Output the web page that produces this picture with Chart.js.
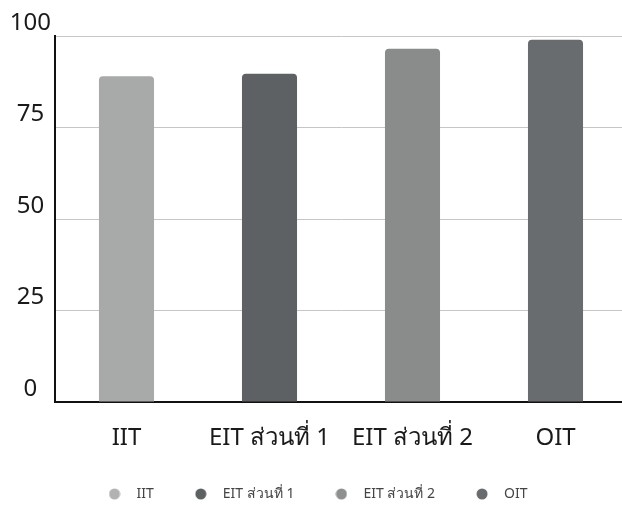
<!DOCTYPE html>
<html>
<head>
<meta charset="utf-8">
<script src="https://cdn.jsdelivr.net/npm/chart.js@4.4.1/dist/chart.umd.min.js"></script>
<style>
  html, body { margin: 0; padding: 0; background: #ffffff; overflow: hidden; }
  #wrap { position: absolute; left: 0; top: 0; width: 628px; height: 511px; }
</style>
</head>
<body>
<div id="wrap"><canvas id="c"></canvas></div>
<script>
const categories = ['IIT', 'EIT ส่วนที่ 1', 'EIT ส่วนที่ 2', 'OIT'];
const values = [89, 89.7, 96.5, 99];
const barColors = ['#a8a9a9', '#5e6164', '#8a8c8c', '#696c6f'];
const legendColors = ['#b1b2b2', '#5e6164', '#8e8f8f', '#696c6f'];
const yTicks = [0, 25, 50, 75, 100];

const FONT = '"Noto Sans", "Open Sans", sans-serif';

function dot(color) {
  const c = document.createElement('canvas');
  c.width = 12; c.height = 12;
  const g = c.getContext('2d');
  g.fillStyle = color;
  g.beginPath();
  g.arc(6, 6, 5.5, 0, Math.PI * 2);
  g.fill();
  return c;
}
const dots = legendColors.map(dot);

const datasets = categories.map((name, i) => ({
  label: name,
  data: categories.map((_, j) => (j === i ? values[i] : null)),
  backgroundColor: barColors[i],
  borderRadius: { topLeft: 4, topRight: 4, bottomLeft: 0, bottomRight: 0 },
  borderSkipped: 'bottom'
}));

new Chart(document.getElementById('c'), {
  type: 'bar',
  data: { labels: categories, datasets },
  options: {
    responsive: true,
    maintainAspectRatio: false,
    animation: false,
    devicePixelRatio: 1,
    layout: { padding: { top: 36, left: 0, right: 1, bottom: 0 } },
    datasets: { bar: { grouped: false, categoryPercentage: 1, barPercentage: 0.385 } },
    plugins: {
      tooltip: { enabled: false },
      legend: {
        position: 'bottom',
        labels: {
          usePointStyle: true,
          pointStyleWidth: 30,
          boxHeight: 12,
          padding: 32,
          color: '#444444',
          font: { family: FONT, size: 14 },
          generateLabels: (chart) =>
            Chart.defaults.plugins.legend.labels.generateLabels(chart).map((l, i) => ({
              ...l, pointStyle: dots[i]
            }))
        }
      }
    },
    scales: {
      x: {
        afterFit: (scale) => { scale.height = 53; },
        grid: { display: false, drawTicks: false },
        border: { display: true, color: '#111111', width: 2 },
        ticks: { color: '#1a1a1a', font: { family: FONT, size: 24 }, padding: 22 }
      },
      y: {
        min: 0,
        max: 100,
        afterBuildTicks: (scale) => { scale.ticks = yTicks.map(v => ({ value: v })); },
        afterFit: (scale) => { scale.width = 55; },
        grid: { color: '#c6c6c6', lineWidth: 1, drawTicks: false },
        border: { display: true, color: '#111111', width: 2 },
        ticks: {
          color: '#1a1a1a',
          font: { family: FONT, size: 24 },
          crossAlign: 'center',
          labelOffset: -13,
          padding: 4
        }
      }
    }
  }
});
</script>
</body>
</html>
